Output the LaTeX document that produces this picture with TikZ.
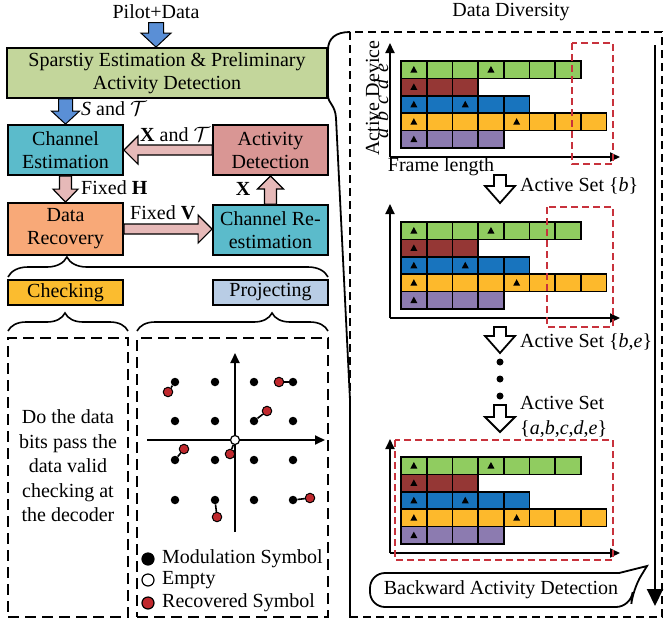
\documentclass[tikz,border=0pt]{standalone}
\usepackage{fontspec}
\setmainfont{Liberation Serif}
\usetikzlibrary{calc,arrows.meta,decorations.pathreplacing}
\definecolor{cspe}{HTML}{C3D69B}
\definecolor{cteal}{HTML}{5BBBCB}
\definecolor{cad}{HTML}{D99694}
\definecolor{cdr}{HTML}{F8A978}
\definecolor{cpink}{HTML}{E6B9B8}
\definecolor{cbluearr}{HTML}{5A8FD6}
\definecolor{cchk}{HTML}{FBBC2F}
\definecolor{cprj}{HTML}{B9CDE5}
\definecolor{cgreen}{HTML}{90CC60}
\definecolor{cdred}{HTML}{953735}
\definecolor{cblue}{HTML}{1874BE}
\definecolor{cyel}{HTML}{FDB92C}
\definecolor{cpur}{HTML}{8C7BB0}
\definecolor{cdash}{HTML}{C8323C}
\definecolor{cred}{HTML}{C0282D}
\newcommand{\myfs}{\fontsize{20}{23}\selectfont}
% block arrows: style, from, to, shaft half, head half, head length
\newcommand{\arrD}[6]{\path[#1] let \p1=(#2), \p2=(#3) in (\x1-#4,\y1) -- (\x1+#4,\y1) -- (\x1+#4,\y2+#6) -- (\x1+#5,\y2+#6) -- (\x1,\y2) -- (\x1-#5,\y2+#6) -- (\x1-#4,\y2+#6) -- cycle;}
\newcommand{\arrU}[6]{\path[#1] let \p1=(#2), \p2=(#3) in (\x1-#4,\y1) -- (\x1+#4,\y1) -- (\x1+#4,\y2-#6) -- (\x1+#5,\y2-#6) -- (\x1,\y2) -- (\x1-#5,\y2-#6) -- (\x1-#4,\y2-#6) -- cycle;}
\newcommand{\arrL}[6]{\path[#1] let \p1=(#2), \p2=(#3) in (\x1,\y1+#4) -- (\x2+#6,\y1+#4) -- (\x2+#6,\y1+#5) -- (\x2,\y1) -- (\x2+#6,\y1-#5) -- (\x2+#6,\y1-#4) -- (\x1,\y1-#4) -- cycle;}
\newcommand{\arrR}[6]{\path[#1] let \p1=(#2), \p2=(#3) in (\x1,\y1+#4) -- (\x2-#6,\y1+#4) -- (\x2-#6,\y1+#5) -- (\x2,\y1) -- (\x2-#6,\y1-#5) -- (\x2-#6,\y1-#4) -- (\x1,\y1-#4) -- cycle;}
% chart rows: top y, count, colour, cells with marker
\newcommand{\mychartrow}[4]{%
  \foreach \i in {1,...,#2}{\draw[cell,fill=#3] ({401+25.7*(\i-1)},{#1}) rectangle ++(25.7,17.4);}
  \foreach \t in {#4}{\fill ({401+25.7*(\t-0.5)-3.5},{#1+11.5}) -- ++(7,0) -- ({401+25.7*(\t-0.5)},{#1+5}) -- cycle;}
}
\newcommand{\mychart}[1]{%
  \draw[axl] (390,{#1}) -- (390,{#1-114});
  \draw[axl] (390,{#1}) -- (620,{#1});
  \mychartrow{#1-96}{7}{cgreen}{1,4}
  \mychartrow{#1-78.6}{3}{cdred}{1}
  \mychartrow{#1-61.2}{5}{cblue}{1,3}
  \mychartrow{#1-43.8}{8}{cyel}{1,5}
  \mychartrow{#1-26.4}{4}{cpur}{1}
}
\begin{document}
\begin{tikzpicture}[x=1pt,y=-1pt,
  every node/.style={font=\myfs},
  box/.style={draw, line width=1.8pt, minimum width=115pt, minimum height=50pt, align=center, inner sep=1pt},
  lbl/.style={anchor=west, inner sep=0pt},
  pinkarr/.style={draw, line width=1.2pt, fill=cpink},
  bluearr/.style={draw=black, line width=1pt, fill=cbluearr},
  hollow/.style={draw, line width=1.8pt, fill=white},
  dashbox/.style={draw, line width=1.8pt, dash pattern=on 11pt off 6pt, inner sep=0pt},
  rdash/.style={draw=cdash, line width=2pt, dash pattern=on 7pt off 4pt},
  cell/.style={draw, line width=1.6pt},
  axl/.style={line width=1.8pt, -{Triangle[length=10pt,width=9pt]}},
  mdot/.style={circle, fill=black, inner sep=0pt, minimum size=8.5pt},
  edot/.style={circle, draw, fill=white, line width=1.2pt, inner sep=0pt, minimum size=9pt},
  rdot/.style={circle, draw=black, fill=cred, line width=1pt, inner sep=0pt, minimum size=9.5pt},
  ldot/.style={circle, draw, line width=1.2pt, inner sep=0pt, minimum size=12pt},
  sdot/.style={circle, fill=black, inner sep=0pt, minimum size=7pt},
  conn/.style={line width=1.6pt}
]
\useasboundingbox (0,0) rectangle (664,622);

% ---------- left part ----------
\node (pilot) at (156,12) {Pilot+Data};
\node[box, fill=cspe, minimum width=320pt] (spe) at (167,73) {Sparstiy Estimation \& Preliminary\\Activity Detection};
\node[box, fill=cteal] (ce) at (65.5,150) {Channel\\Estimation};
\node[box, fill=cad] (ad) at (270.5,150) {Activity\\Detection};
\node[box, fill=cdr, minimum height=52pt] (dr) at (65.5,229) {Data\\Recovery};
\node[box, fill=cteal] (cr) at (270.5,230) {Channel Re-\\estimation};
\node[box, fill=cchk, minimum height=25pt] (chk) at (65.5,292.5) {Checking};
\node[box, fill=cprj, minimum height=25pt] (prj) at (270.5,292.5) {Projecting};

\arrD{bluearr}{pilot.south}{spe.north}{7.5pt}{15pt}{14pt}
\arrD{bluearr}{spe.south -| ce.north}{ce.north}{7pt}{14pt}{13pt}
\arrL{pinkarr}{ad.west}{ce.east}{5pt}{14pt}{14pt}
\arrD{pinkarr}{ce.south}{dr.north}{6pt}{12.5pt}{13pt}
\arrR{pinkarr}{dr.east}{cr.west}{5pt}{14pt}{14pt}
\arrU{pinkarr}{cr.north}{ad.south}{6pt}{13pt}{13pt}

\node[lbl] (lst) at (81,109) {\textit{S} and $\mathcal{T}$};
\node[lbl] (lxt) at (140,135) {\textbf{X} and $\mathcal{T}$};
\node[lbl] (lfh) at (81,188) {Fixed \textbf{H}};
\node[lbl] (lfv) at (130,213) {Fixed \textbf{V}};
\node (lx) at (243,189) {\textbf{X}};

\draw[line width=1.6pt, decorate, decoration={brace, amplitude=20pt, aspect=0.184}] (8,277) -- (328,277);
\draw[line width=1.6pt, decorate, decoration={brace, amplitude=18pt, aspect=0.475}] (8,331) -- (128,331);
\draw[line width=1.6pt, decorate, decoration={brace, amplitude=18pt, aspect=0.707}] (137,331) -- (328,331);

\node[dashbox, minimum width=120pt, minimum height=279pt] (lb) at (68,477.5) {};
\node[dashbox, minimum width=191pt, minimum height=279pt] (rb) at (232.5,477.5) {};
\node[align=center, font=\fontsize{20}{24.5}\selectfont] (txt) at (68,466) {Do the data\\bits pass the\\data valid\\checking at\\the decoder};

% constellation
\draw[axl] (147,440) -- (325,440);
\draw[axl] (235,532) -- (235,353);
\foreach \x [count=\i] in {175,215,254,293}
  \foreach \y [count=\j] in {382,421,460,500}
    \node[mdot] (m\i\j) at (\x,\y) {};
\node[edot] (o) at (235,440) {};
\node[rdot] (r1) at (168,392) {};
\node[rdot] (r2) at (279,382) {};
\node[rdot] (r3) at (267,411) {};
\node[rdot] (r4) at (184,449) {};
\node[rdot] (r5) at (230,454) {};
\node[rdot] (r6) at (310,498) {};
\node[rdot] (r7) at (217,517) {};
\draw[conn] (m11) -- (r1);
\draw[conn] (m41) -- (r2);
\draw[conn] (m32) -- (r3);
\draw[conn] (m13) -- (r4);
\draw[conn] (o) -- (r5);
\draw[conn] (m44) -- (r6);
\draw[conn] (m24) -- (r7);

\node[ldot, fill=black] (lg1) at (148,559) {};
\node[lbl] (lt1) at (162,559) {Modulation Symbol};
\node[ldot, fill=white] (lg2) at (148,580) {};
\node[lbl] (lt2) at (162,580) {Empty};
\node[ldot, fill=cred] (lg3) at (148,603) {};
\node[lbl] (lt3) at (162,603) {Recovered Symbol};

% ---------- right part ----------
\node (dd) at (511,12) {Data Diversity};
\draw[line width=1.8pt, dash pattern=on 8pt off 5pt] (350,32) rectangle (662,617);
\draw[line width=1.8pt] (350,32) .. controls (336,32) and (328,38) .. (328,50) -- (328,95)
  .. controls (328,104) and (335,104) .. (336,118) -- (350,400) -- (350,617);
\coordinate (bs) at (655,45);
\coordinate (be) at (655,606);
\draw[line width=2pt, -{Triangle[length=17pt,width=16pt]}] (bs) -- (be);

\mychart{157}
\mychart{318}
\mychart{553}

\node[rotate=90, anchor=base, inner sep=0pt] (lad) at (379,98) {Active Device};
\foreach \l/\y in {e/68,d/84,c/100,b/116,a/133}
  \node[rotate=90, anchor=base, inner sep=0pt] (dev\l) at (388,\y) {\textit{\l}};
\node (fl) at (441,167) {Frame length};

\draw[rdash] (572,43) rectangle (613,164);
\draw[rdash] (547,207) rectangle (613,327);
\draw[rdash] (395,440) rectangle (613,560);

\coordinate (h1s) at (500,175); \coordinate (h1e) at (500,203);
\coordinate (h2s) at (500,327); \coordinate (h2e) at (500,353);
\coordinate (h3s) at (500,405); \coordinate (h3e) at (500,432);
\arrD{hollow}{h1s}{h1e}{6pt}{15pt}{17pt}
\arrD{hollow}{h2s}{h2e}{6pt}{15pt}{17pt}
\arrD{hollow}{h3s}{h3e}{6pt}{15pt}{15pt}
\node[lbl] (as1) at (520,186) {Active Set \{\textit{b}\}};
\node[lbl] (as2) at (520,342) {Active Set \{\textit{b},\textit{e}\}};
\node[lbl] (as3) at (520,403) {Active Set};
\node[lbl] (as4) at (520,429) {\{\textit{a},\textit{b},\textit{c},\textit{d},\textit{e}\}};
\node[sdot] (s1) at (500,362) {};
\node[sdot] (s2) at (500,379) {};
\node[sdot] (s3) at (500,396) {};

\draw[line width=1.8pt, fill=white] (647,566) -- (619,573) [rounded corners=15pt] -- (370,573) -- (370,607) -- (631,607) -- (633,589) [sharp corners] -- cycle;
\node (bad) at (501,590) {Backward Activity Detection};
\end{tikzpicture}
\end{document}
